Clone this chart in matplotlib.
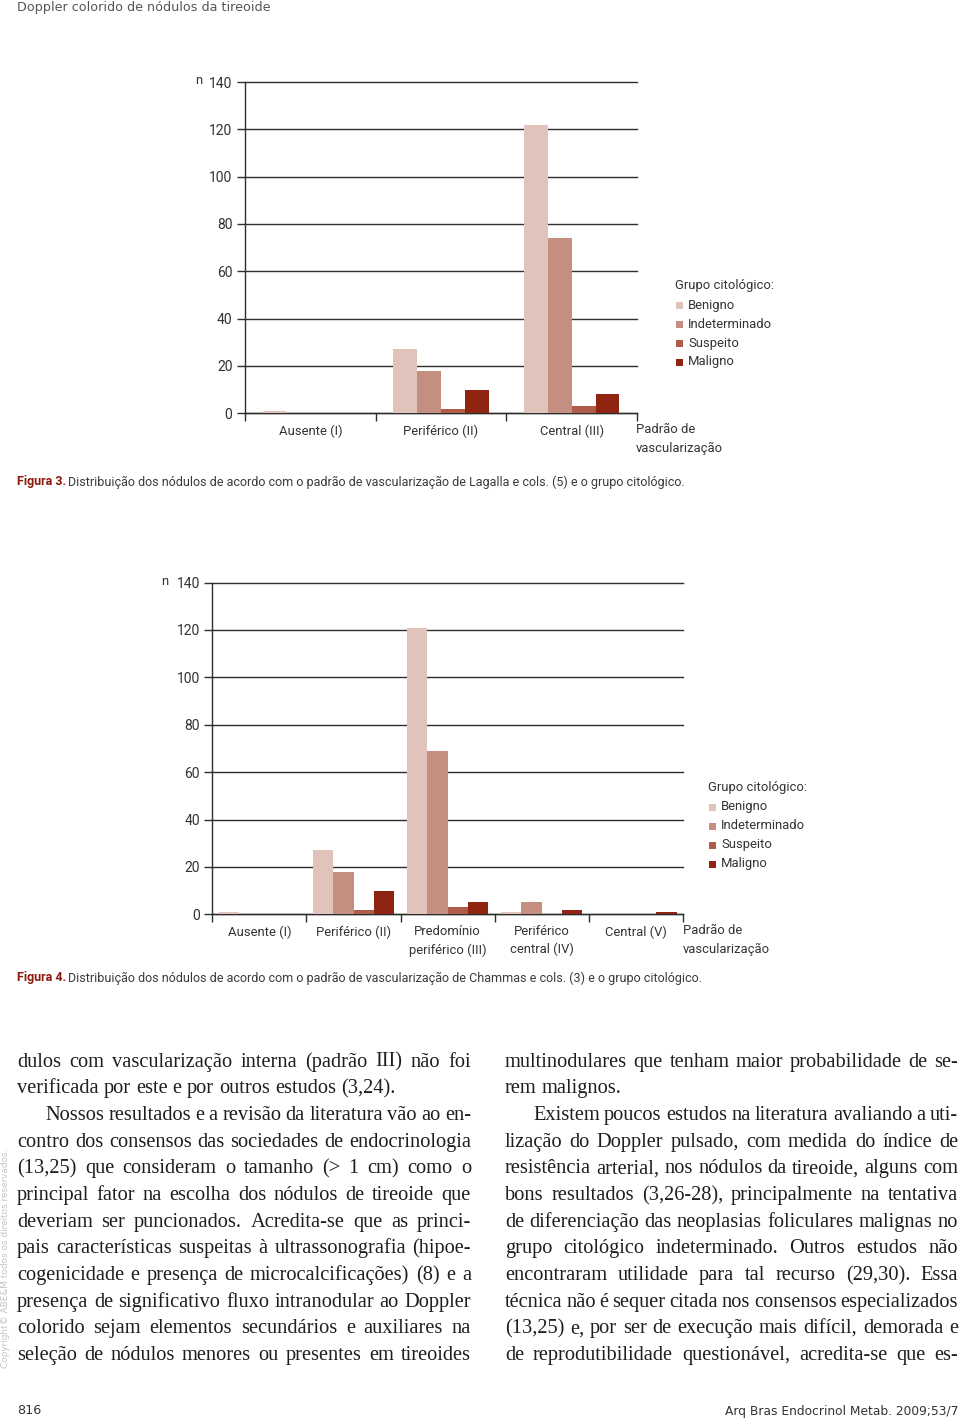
import matplotlib
matplotlib.use("Agg")
import numpy as np
import matplotlib.pyplot as plt
from matplotlib import font_manager
from matplotlib.patches import Rectangle

# -----------------------------
# Data
# -----------------------------
grupos = ["Benigno", "Indeterminado", "Suspeito", "Maligno"]
cores = ["#e0c4bc", "#c48f80", "#b05c49", "#8f2410"]

lagalla_cats = ["Ausente (I)", "Periférico (II)", "Central (III)"]
lagalla_benigno = [1, 27, 122]
lagalla_indet = [0, 18, 74]
lagalla_suspeito = [0, 2, 3]
lagalla_maligno = [0, 10, 8]

chammas_cats = ["Ausente (I)", "Periférico (II)", "Predomínio\nperiférico (III)",
                "Periférico\ncentral (IV)", "Central (V)"]
chammas_benigno = [1, 27, 121, 1, 0]
chammas_indet = [0, 18, 69, 5, 0]
chammas_suspeito = [0, 2, 3, 0, 0]
chammas_maligno = [0, 10, 5, 2, 1]

y_ticks = [0, 20, 40, 60, 80, 100, 120, 140]

cap3 = "Distribuição dos nódulos de acordo com o padrão de vascularização de Lagalla e cols. (5) e o grupo citológico."
cap4 = "Distribuição dos nódulos de acordo com o padrão de vascularização de Chammas e cols. (3) e o grupo citológico."

col_esq = [
    "dulos com vascularização interna (padrão III) não foi",
    "verificada por este e por outros estudos (3,24).",
    "Nossos resultados e a revisão da literatura vão ao en-",
    "contro dos consensos das sociedades de endocrinologia",
    "(13,25) que consideram o tamanho (> 1 cm) como o",
    "principal fator na escolha dos nódulos de tireoide que",
    "deveriam ser puncionados. Acredita-se que as princi-",
    "pais características suspeitas à ultrassonografia (hipoe-",
    "cogenicidade e presença de microcalcificações) (8) e a",
    "presença de significativo fluxo intranodular ao Doppler",
    "colorido sejam elementos secundários e auxiliares na",
    "seleção de nódulos menores ou presentes em tireoides",
]
col_dir = [
    "multinodulares que tenham maior probabilidade de se-",
    "rem malignos.",
    "Existem poucos estudos na literatura avaliando a uti-",
    "lização do Doppler pulsado, com medida do índice de",
    "resistência arterial, nos nódulos da tireoide, alguns com",
    "bons resultados (3,26-28), principalmente na tentativa",
    "de diferenciação das neoplasias foliculares malignas no",
    "grupo citológico indeterminado. Outros estudos não",
    "encontraram utilidade para tal recurso (29,30). Essa",
    "técnica não é sequer citada nos consensos especializados",
    "(13,25) e, por ser de execução mais difícil, demorada e",
    "de reprodutibilidade questionável, acredita-se que es-",
]
# paragraph starts (indented) and paragraph ends (not justified)
esq_indent, esq_fim = [2], [1]
dir_indent, dir_fim = [2], [1]

# -----------------------------
# Page setup
# -----------------------------
W, H = 960, 1421
fig = plt.figure(figsize=(W / 100, H / 100), dpi=100)
fig.patch.set_facecolor("white")
renderer = fig.canvas.get_renderer()

names = {f.name for f in font_manager.fontManager.ttflist}
narrow = "Liberation Sans Narrow" if "Liberation Sans Narrow" in names else "Roboto"
SANS = [narrow, "DejaVu Sans"]
SERIF = ["Liberation Serif", "DejaVu Serif"]
GEO = ["DejaVu Sans"]
FS = 9.4  # chart text size

ink = "#333333"
line_col = "#2e2e2e"


def fx(x):
    return x / W


def fy(y):
    return 1 - y / H


def txt(x, y, s, **kw):
    return fig.text(fx(x), fy(y), s, **kw)


def draw_chart(left, right, y0, y140, cats, series, bar_w, n_xy, legend_xy, padrao_x):
    ax = fig.add_axes([fx(left), fy(y0), (right - left) / W, (y0 - y140) / H])
    n = len(cats)
    x = np.arange(n)
    for i, vals in enumerate(series):
        ax.bar(x + (i - 1.5) * bar_w, vals, width=bar_w, color=cores[i],
               linewidth=0, zorder=3)
    ax.set_xlim(-0.5, n - 0.5)
    ax.set_ylim(0, 140)
    for t in y_ticks:
        ax.axhline(t, color=line_col, lw=1.0, zorder=1, clip_on=False)
    ax.set_yticks(y_ticks)
    ax.set_yticklabels([str(t) for t in y_ticks])
    ax.tick_params(axis="y", length=6, width=1.0, color=line_col, pad=3,
                   labelsize=FS + 0.6, labelcolor=ink)
    ax.set_xticks(x)
    ax.set_xticklabels(cats, linespacing=1.45)
    ax.set_xticks(np.arange(n + 1) - 0.5, minor=True)
    ax.tick_params(axis="x", which="major", length=0, pad=8, labelsize=FS,
                   labelcolor=ink)
    ax.tick_params(axis="x", which="minor", length=6, width=1.0, color=line_col)
    for lab in ax.get_xticklabels() + ax.get_yticklabels():
        lab.set_family(SANS)
    for s in ["top", "right"]:
        ax.spines[s].set_visible(False)
    for s in ["left", "bottom"]:
        ax.spines[s].set_color(line_col)
        ax.spines[s].set_linewidth(1.0)
    ax.set_facecolor("none")

    txt(n_xy[0], n_xy[1], "n", family=SANS, fontsize=FS, color=ink,
        ha="left", va="center")
    txt(padrao_x, y0 + 16, "Padrão de", family=SANS, fontsize=FS, color=ink,
        ha="left", va="center")
    txt(padrao_x, y0 + 35, "vascularização", family=SANS, fontsize=FS,
        color=ink, ha="left", va="center")

    lx, ly = legend_xy
    txt(lx, ly, "Grupo citológico:", family=SANS, fontsize=FS, color=ink,
        ha="left", va="center")
    for i, g in enumerate(grupos):
        yy = ly + 19 * (i + 1)
        fig.patches.append(Rectangle((fx(lx + 1), fy(yy + 3.5)), 7 / W, 7 / H,
                                     transform=fig.transFigure,
                                     facecolor=cores[i], edgecolor="none"))
        txt(lx + 13, yy, g, family=SANS, fontsize=FS, color=ink,
            ha="left", va="center")
    return ax


def caption(y, label, rest):
    t = txt(17, y, label, family=SANS, fontsize=9.0, fontweight="bold",
            color="#8a1c10", ha="left", va="center")
    w = t.get_window_extent(renderer).width
    txt(17 + w + 2, y, rest, family=SANS, fontsize=9.0, color="#3a3a3a",
        ha="left", va="center")


# header
txt(17, 7, "Doppler colorido de nódulos da tireoide", family=GEO, fontsize=9.2,
    color="#555555", ha="left", va="center")

# Figura 3
draw_chart(245, 637, 413.3, 82, lagalla_cats,
           [lagalla_benigno, lagalla_indet, lagalla_suspeito, lagalla_maligno],
           0.183, (195, 80), (675, 286), 636)
caption(482, "Figura 3.", cap3)

# Figura 4
draw_chart(212.3, 683, 914.3, 582.6, chammas_cats,
           [chammas_benigno, chammas_indet, chammas_suspeito, chammas_maligno],
           0.216, (161, 581), (708, 788), 683)
caption(978, "Figura 4.", cap4)

# -----------------------------
# Body text (justified, two columns)
# -----------------------------
body_col = "#1e1e1e"
base_size = 14.0


def measure(s, size):
    t = fig.text(0, 0, s, family=SERIF, fontsize=size)
    w = t.get_window_extent(renderer).width
    t.remove()
    return w


sp = measure("a a", base_size) - measure("aa", base_size)
ratio = 10.0
for lines, x0, x1, ind in [(col_esq, 17, 471, esq_indent), (col_dir, 505, 958, dir_indent)]:
    for k, s in enumerate(lines):
        words = s.split(" ")
        nat = sum(measure(w, base_size) for w in words) + 0.7 * sp * (len(words) - 1)
        avail = (x1 - x0) - (28 if k in ind else 0)
        ratio = min(ratio, avail / nat)
size = base_size * min(ratio, 1.15)
sp = sp * size / base_size


def put_line(s, x0, x1, y, justify):
    words = s.split(" ")
    objs = [fig.text(0, 0, w, family=SERIF, fontsize=size, color=body_col,
                     ha="left", va="baseline") for w in words]
    widths = [o.get_window_extent(renderer).width for o in objs]
    gap = (x1 - x0 - sum(widths)) / (len(words) - 1) if justify and len(words) > 1 else sp
    x = x0
    for o, w in zip(objs, widths):
        o.set_position((fx(x), fy(y)))
        x += w + gap


for lines, x0, x1, ind, fim in [(col_esq, 17, 471, esq_indent, esq_fim),
                                (col_dir, 505, 958, dir_indent, dir_fim)]:
    for k, s in enumerate(lines):
        y = 1066.7 + 26.67 * k
        start = x0 + (28 if k in ind else 0)
        put_line(s, start, x1, y, k not in fim)

# side copyright
txt(6, 1258, "Copyright© ABE&M todos os direitos reservados.", family=GEO,
    fontsize=6.4, color="#c4c4c4", rotation=90, ha="center", va="center")

# footer
txt(17, 1411, "816", family=GEO, fontsize=9.2, color="#333333", ha="left",
    va="center")
txt(958, 1411, "Arq Bras Endocrinol Metab. 2009;53/7", family=GEO, fontsize=8.8,
    color="#333333", ha="right", va="center")

fig.savefig("out.png", dpi=100, facecolor="white")
